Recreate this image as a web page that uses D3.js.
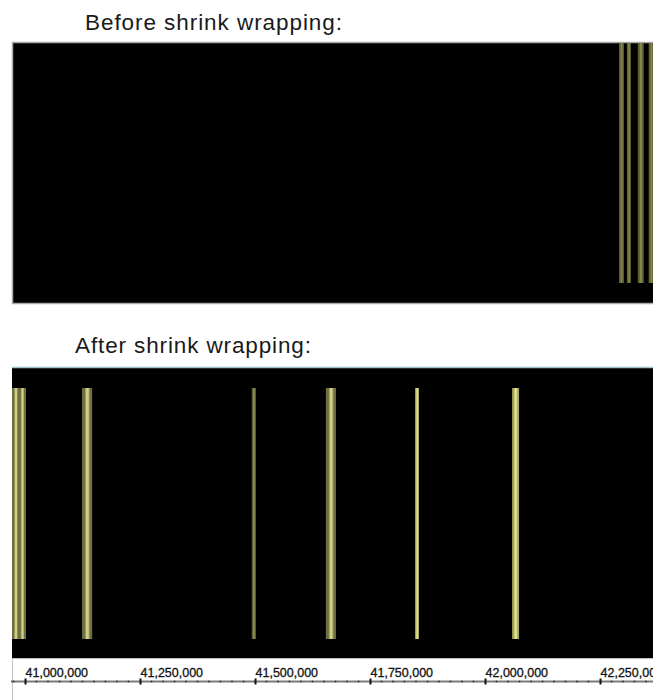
<!DOCTYPE html>
<html>
<head>
<meta charset="utf-8">
<script src="https://cdn.jsdelivr.net/npm/d3@7"></script>
<style>
  html, body { margin: 0; padding: 0; background: #fff; }
  svg { display: block; }
</style>
</head>
<body>
<script>
// ---- data ----
const titles = ["Before shrink wrapping:", "After shrink wrapping:"];
// genomic features (bp) seen in the unwrapped (wide) view
const beforeStarts = [40720000, 41250000, 41980000, 42710000];
const beforeEnds   = [41050000, 41520000, 42380000, 43060000];
// features in the shrink-wrapped view (bp)
const afterStarts = [40971740, 40986000, 41124000, 41493000, 41654000, 41848000, 42059000];
const afterEnds   = [40988000, 41002200, 41146000, 41502000, 41676000, 41856500, 42074000];
const afterTone   = ["dim", "dim", "dim", "dark", "dim", "bright", "bright"];
const tickValues  = [41000000, 41250000, 41500000, 41750000, 42000000, 42250000];
const beforeDomain = [0, 43000000];
const afterDomain  = [40971740, 42365220];

const W = 653, H = 700;
const svg = d3.select("body").append("svg").attr("width", W).attr("height", H);
const defs = svg.append("defs");

function grad(id, edge, mid) {
  const g = defs.append("linearGradient").attr("id", id)
    .attr("x1", "0%").attr("x2", "100%").attr("y1", "0%").attr("y2", "0%");
  g.append("stop").attr("offset", "0%").attr("stop-color", edge);
  g.append("stop").attr("offset", "25%").attr("stop-color", edge);
  g.append("stop").attr("offset", "45%").attr("stop-color", mid);
  g.append("stop").attr("offset", "60%").attr("stop-color", mid);
  g.append("stop").attr("offset", "80%").attr("stop-color", edge);
  g.append("stop").attr("offset", "100%").attr("stop-color", edge);
}
grad("g-top", "#5e5e34", "#86864c");
grad("g-dim", "#6e6e3e", "#cfcf8a");
grad("g-dark", "#5f5f36", "#8f8f58");
grad("g-bright", "#a9a95a", "#e4e49a");

const font = "'Liberation Sans', Arial, sans-serif";

// ---- titles ----
svg.append("text").attr("x", 85).attr("y", 30).text(titles[0])
  .attr("font-family", font).attr("font-size", 22.5).attr("fill", "#1a1a1a")
  .attr("textLength", 257).attr("lengthAdjust", "spacing");
svg.append("text").attr("x", 75).attr("y", 353).text(titles[1])
  .attr("font-family", font).attr("font-size", 22.5).attr("fill", "#1a1a1a")
  .attr("textLength", 236).attr("lengthAdjust", "spacing");

// ---- top panel ----
const xTop = d3.scaleLinear().domain(beforeDomain).range([12, 653]);
svg.append("rect").attr("x", 12.5).attr("y", 42.5).attr("width", 650).attr("height", 261)
  .attr("fill", "#000").attr("stroke", "#a9a9a9").attr("stroke-width", 1.5);
const topG = svg.append("g");
topG.selectAll("rect").data(beforeStarts.map((s, i) => ({s, e: beforeEnds[i]})))
  .join("rect")
  .attr("x", d => xTop(d.s))
  .attr("width", d => Math.max(2, xTop(d.e) - xTop(d.s)))
  .attr("y", 43).attr("height", 240)
  .attr("fill", "url(#g-top)");

// ---- bottom panel ----
const x = d3.scaleLinear().domain(afterDomain).range([12, 653]);
svg.append("rect").attr("x", 12).attr("y", 367).attr("width", 641).attr("height", 291)
  .attr("fill", "#000");
svg.append("line").attr("x1", 12).attr("x2", 653).attr("y1", 367.5).attr("y2", 367.5)
  .attr("stroke", "#9ec3c6").attr("stroke-width", 1.5);
svg.append("line").attr("x1", 12).attr("x2", 653).attr("y1", 658.5).attr("y2", 658.5)
  .attr("stroke", "#bdbdbd").attr("stroke-width", 1);
svg.append("line").attr("x1", 12.5).attr("x2", 12.5).attr("y1", 658).attr("y2", 700)
  .attr("stroke", "#c4c4c4").attr("stroke-width", 1);

const botG = svg.append("g");
botG.selectAll("rect").data(afterStarts.map((s, i) => ({s, e: afterEnds[i], t: afterTone[i]})))
  .join("rect")
  .attr("x", d => x(d.s))
  .attr("width", d => Math.max(2, x(d.e) - x(d.s)))
  .attr("y", 388).attr("height", 251)
  .attr("fill", d => "url(#g-" + d.t + ")");

// ---- axis ----
const axisY = 681.5;
svg.append("line").attr("x1", 11).attr("x2", 653).attr("y1", axisY).attr("y2", axisY)
  .attr("stroke", "#7a7a7a").attr("stroke-width", 2);
const minor = d3.range(afterDomain[0] - afterDomain[0] % 25000 + 25000, afterDomain[1], 25000)
  .filter(v => v % 250000 !== 0);
svg.append("g").selectAll("rect").data(minor).join("rect")
  .attr("x", d => x(d) - 0.75).attr("y", axisY - 0.75).attr("width", 1.5).attr("height", 1.5)
  .attr("fill", "#222");
const axis = d3.axisBottom(x).tickValues(tickValues).tickFormat(d3.format(","))
  .tickSize(0).tickPadding(0);
const ag = svg.append("g").attr("transform", `translate(0,${axisY})`).call(axis);
ag.select(".domain").remove();
ag.selectAll(".tick").append("rect")
  .attr("x", -1).attr("y", -3).attr("width", 2).attr("height", 6).attr("fill", "#111");
ag.selectAll(".tick text")
  .attr("text-anchor", "start").attr("x", 0).attr("y", -5).attr("dy", 0)
  .attr("font-family", font).attr("font-size", 12.5).attr("fill", "#111")
  .attr("stroke", "#111").attr("stroke-width", 0.3);
</script>
</body>
</html>
